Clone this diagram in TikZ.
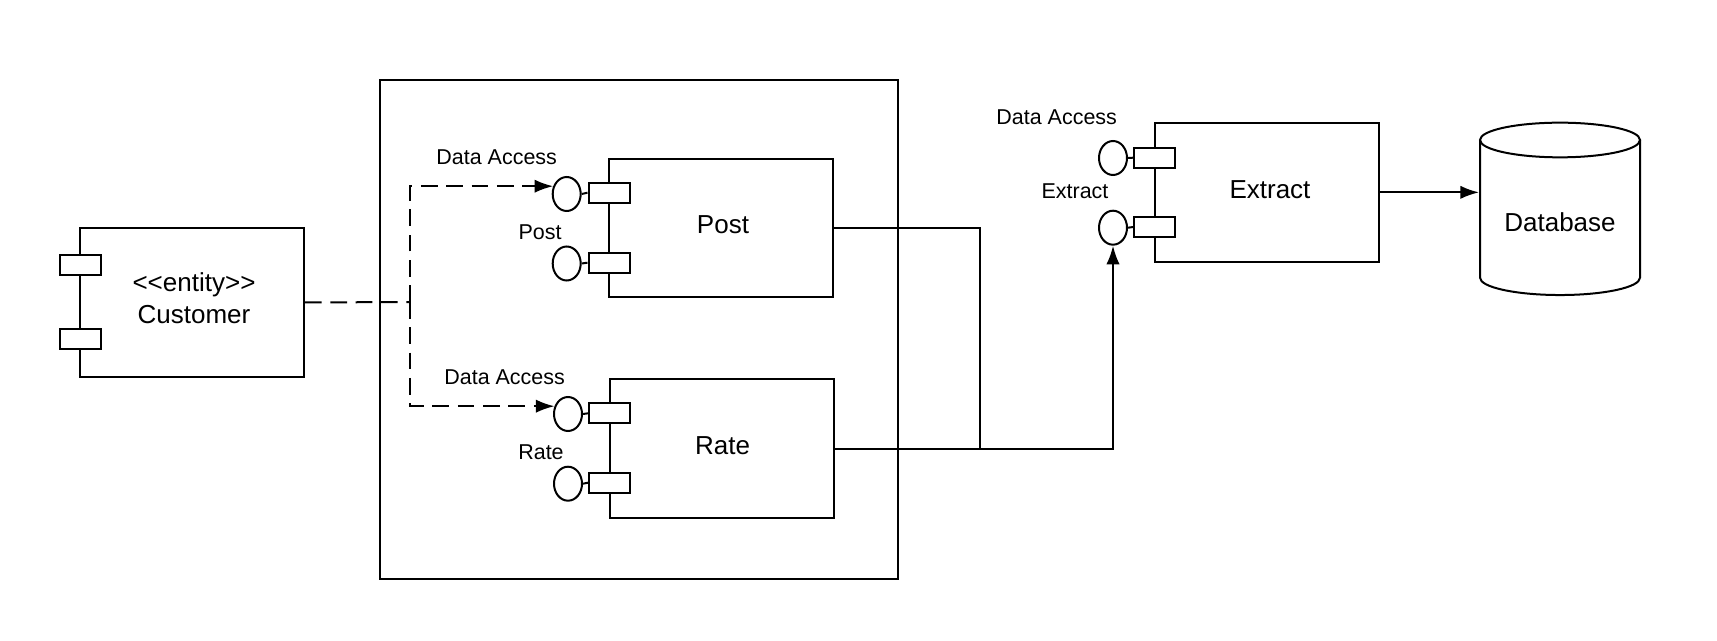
\documentclass[tikz,border=0pt]{standalone}
\usepackage{fontspec}
\setmainfont{Liberation Sans}
\usetikzlibrary{arrows.meta,shapes.geometric}
\begin{document}
\begin{tikzpicture}[x=0.75pt,y=-0.75pt,
  line width=1.5pt,
  comp/.style={draw, line width=1.6pt, inner sep=0pt, minimum width=168.3pt, minimum height=104pt},
  port/.style={draw, fill=white, line width=1.5pt, minimum width=30.75pt, minimum height=15pt, inner sep=0pt},
  iface/.style={draw, ellipse, line width=1.5pt, minimum width=21pt, minimum height=25.5pt, inner sep=0pt},
  big/.style={font=\fontsize{19.5}{23}\selectfont, anchor=base, inner sep=0pt},
  small/.style={font=\fontsize{16.1}{19}\selectfont, anchor=base, inner sep=0pt},
  dsh/.style={dash pattern=on 12.5pt off 6.5pt, line width=1.5pt},
  arr/.style={-{Latex[length=14pt,width=10pt]}}
]
\useasboundingbox (0,0) rectangle (1717,641);
\fill[white] (0,0) rectangle (1717,641);

% outer container
\node[draw, line width=1.6pt, inner sep=0pt, minimum width=388.5pt, minimum height=374.5pt] (outer) at (639,329.65) {};

% Customer
\node[comp, minimum width=168pt, minimum height=111.3pt] (cust) at (192,302.5) {};
\node[port] (cp1) at (80,265) {};
\node[port] (cp2) at (80,338.7) {};
\node[big] (custst) at (194,291.7) {<\kern0pt<entity>\kern0pt>};
\node[big] (custname) at (194,323.3) {Customer};

% Post
\node[comp] (post) at (721,228) {};
\node[port] (pp1) at (609,192.7) {};
\node[port] (pp2) at (609,262.7) {};
\node[iface] (pc1) at (566.7,194) {};
\node[iface] (pc2) at (566.7,263.5) {};
\draw (pc1.east) -- (pp1.west);
\draw (pc2.east) -- (pp2.west);
\node[big] (postname) at (723,234) {Post};
\node[small] (postda) at (496.7,165) {Data Access};
\node[small] (postlbl) at (540,240) {Post};

% Rate
\node[comp] (rate) at (722,448.5) {};
\node[port] (rp1) at (609.5,413.3) {};
\node[port] (rp2) at (609.5,482.7) {};
\node[iface] (rc1) at (568,414) {};
\node[iface] (rc2) at (568,483.7) {};
\draw (rc1.east) -- (rp1.west);
\draw (rc2.east) -- (rp2.west);
\node[big] (ratename) at (722.5,454.3) {Rate};
\node[small] (rateda) at (504.6,385) {Data Access};
\node[small] (ratelbl) at (541,459.3) {Rate};

% Extract
\node[comp] (ext) at (1266.85,192.35) {};
\node[port] (ep1) at (1154.7,157.7) {};
\node[port] (ep2) at (1154.7,227) {};
\node[iface] (ec1) at (1113,158) {};
\node[iface] (ec2) at (1113,227.7) {};
\draw (ec1.east) -- (ep1.west);
\draw (ec2.east) -- (ep2.west);
\node[big] (extname) at (1270,198.3) {Extract};
\node[small] (extda) at (1056.7,124.3) {Data Access};
\node[small] (extlbl) at (1075,199) {Extract};

% Database cylinder
\node[inner sep=0pt, minimum width=120pt, minimum height=129.3pt] (db) at (1560,208.85) {};
\draw[line width=1.5pt] (1480,140) -- (1480,277.7) arc[start angle=180, end angle=360, x radius=60pt, y radius=13pt] -- (1640,140);
\draw[line width=1.5pt] (1560,140) ellipse [x radius=60pt, y radius=13pt];
\node[big] (dbname) at (1560,231.7) {Database};

% dashed dependencies
\coordinate (j) at (410,302);
\draw[dsh] (cust.east) -- (j);
\draw[dsh, arr] (j) |- (pc1.150);
\draw[dsh, arr] (j) |- (rc1.150);

% solid connectors
\coordinate (k) at (980,448.5);
\draw (post.east) -| (k);
\draw[arr] (rate.east) -| (ec2.south);
\draw[arr] (ext.east) -- (ext.east -| db.west);
\end{tikzpicture}
\end{document}
